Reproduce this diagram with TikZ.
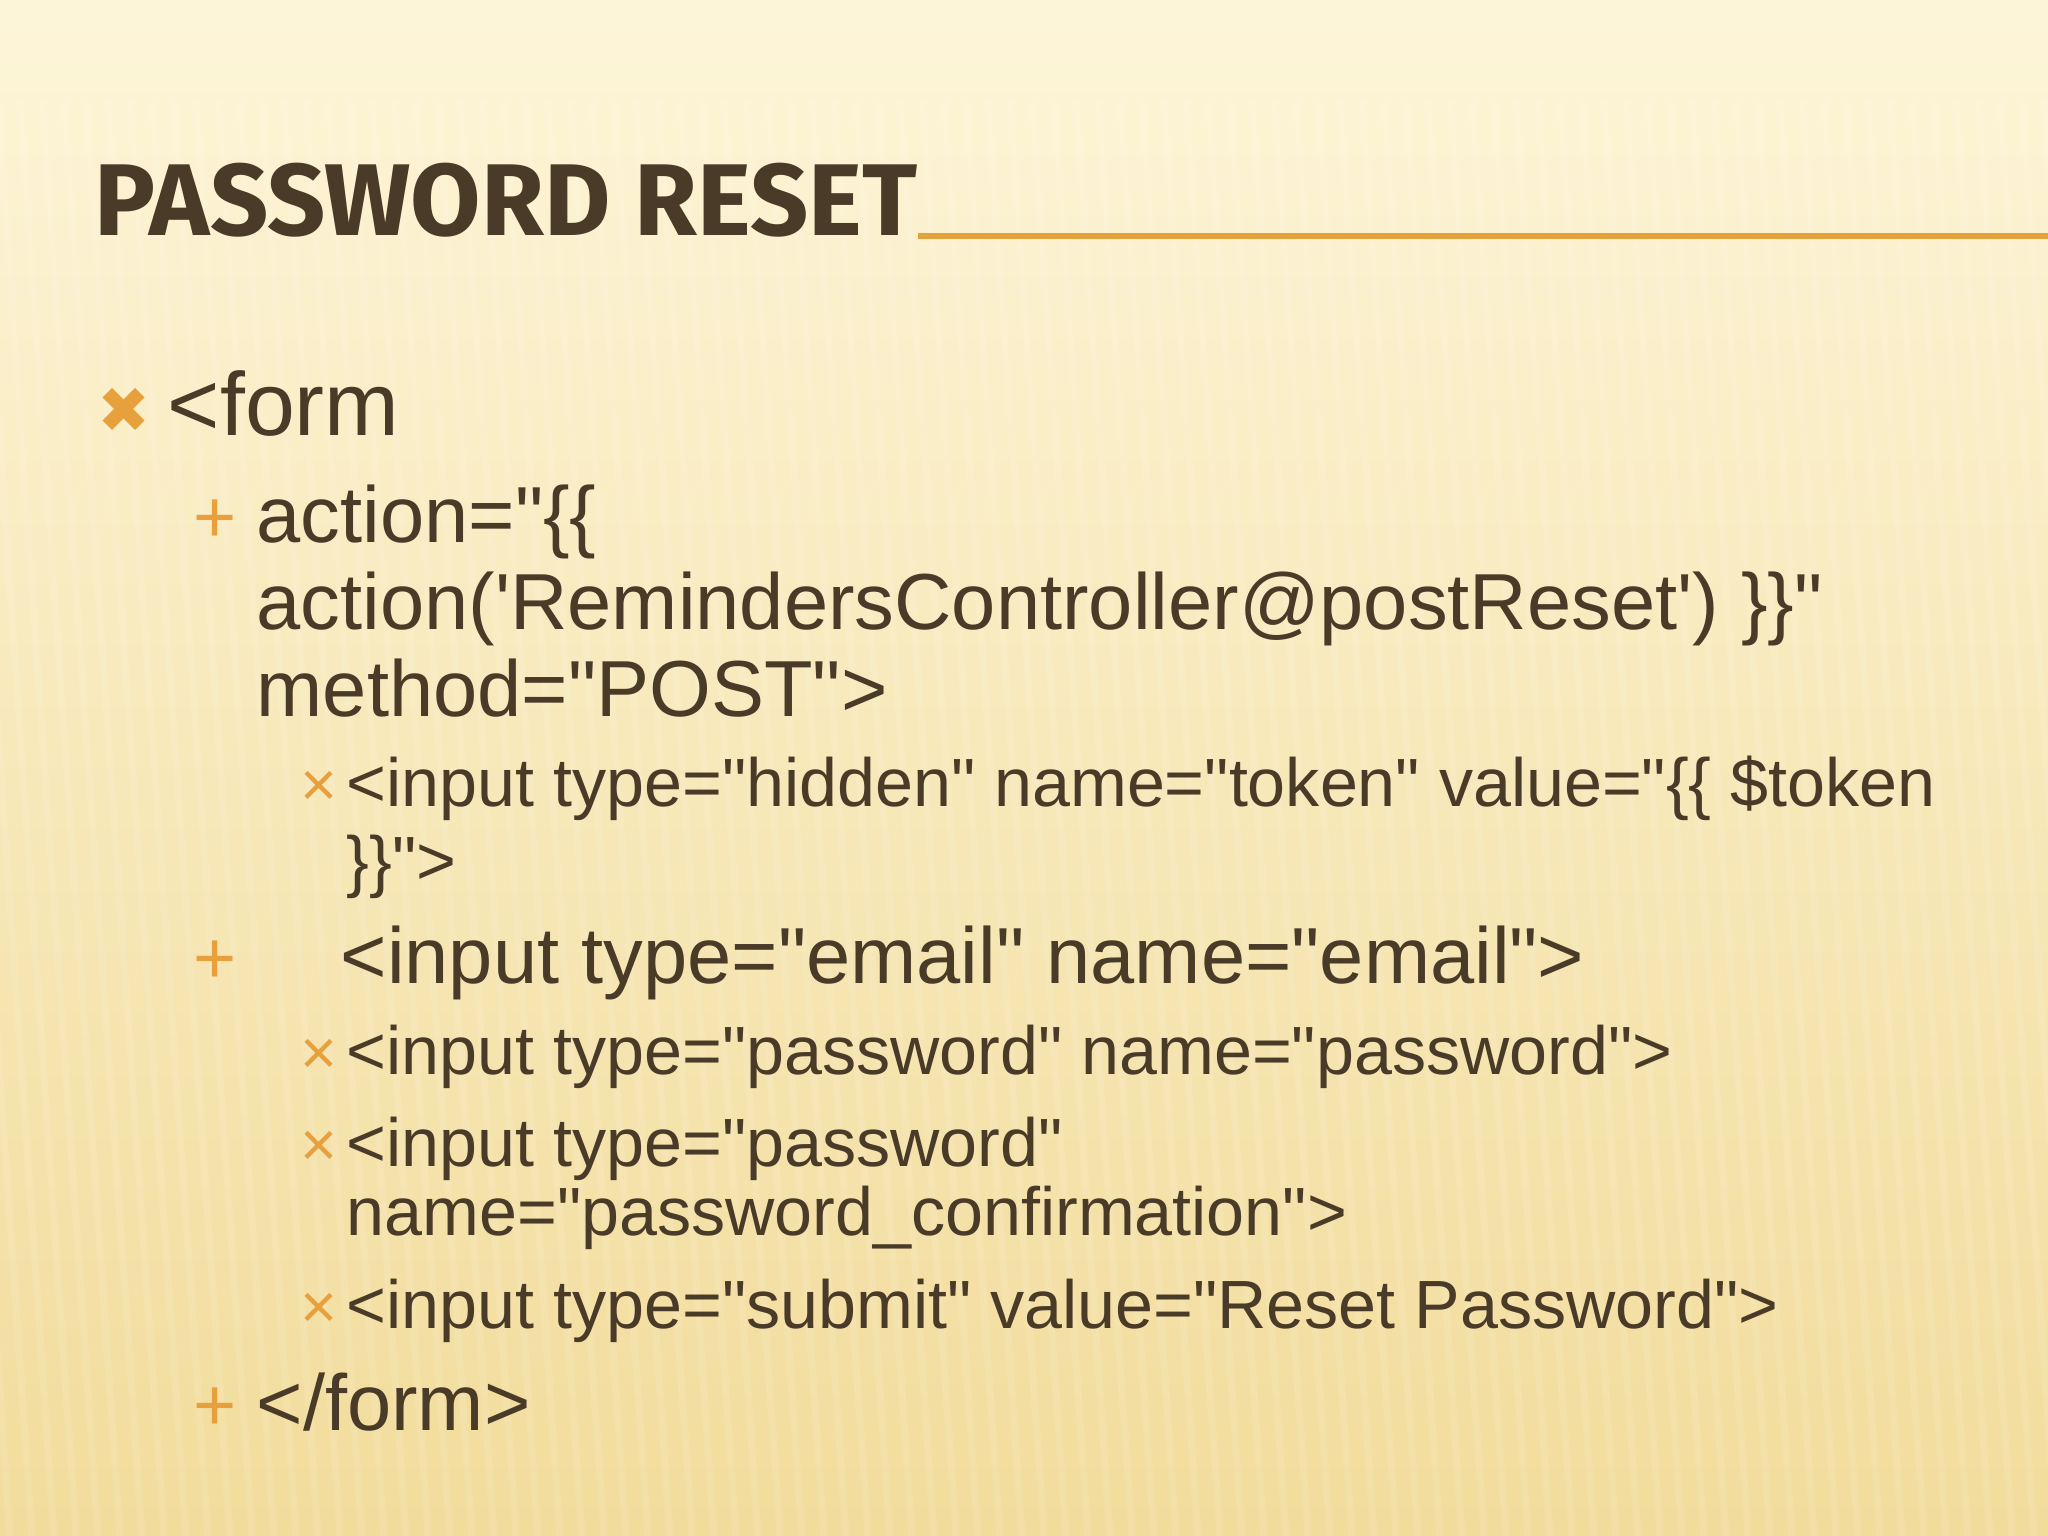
\documentclass[tikz,border=0pt]{standalone}
\usepackage{fontspec}
\setmainfont{Liberation Sans}[Ligatures=TeXOff]
\newfontfamily\titlefont{Fira Sans}
\newfontfamily\symfont{DejaVu Sans}
\definecolor{txt}{HTML}{4A3A28}
\definecolor{bul}{HTML}{E8A03C}
\definecolor{bgtop}{HTML}{FDF5D8}
\definecolor{bgbot}{HTML}{F2DC9C}
\definecolor{rule}{HTML}{E3A23A}
\tikzset{
 t/.style={anchor=base west,inner sep=0pt,text=txt},
 la/.style={t,font=\fontsize{25.5}{30}\selectfont},
 lb/.style={t,font=\fontsize{22.6}{27}\selectfont},
 lc/.style={t,font=\fontsize{19.4}{23}\selectfont},
 bb/.style={anchor=base west,inner sep=0pt,text=bul},
}
\begin{document}
\begin{tikzpicture}[x=0.01cm,y=-0.01cm]
\useasboundingbox (0,0) rectangle (2048,1536);
\shade[top color=bgtop,bottom color=bgbot] (0,0) rectangle (2048,1536);
\fill[bgtop,opacity=0.6] (0,0) rectangle (2048,80);
\foreach \i in {0,...,120}{\draw[white,opacity=0.10,line width=2pt] (\i*22-200,100) -- (\i*22-100,1536);}
\node[t,font=\titlefont\bfseries\fontsize{29}{33}\selectfont] (title) at (94,235) {PASSWORD RESET};
\coordinate (re) at (2048,236);
\draw[rule,line width=1.5pt] (title.base east) ++(0,1) -- (re);
\node[bb,font=\symfont\fontsize{18}{20}\selectfont] (b1) at (97,432) {✖};
\node[la] (l1) at (167,435) {<form};
\node[bb,font=\fontsize{21}{24}\selectfont] (b2) at (193,542) {+};
\node[lb] (l2a) at (256,542) {action="\{\{};
\node[lb] (l2b) at (256,629) {action('RemindersController@postReset') \}\}"};
\node[lb] (l2c) at (256,716) {method="POST">};
\node[bb,font=\fontsize{18}{20}\selectfont] (b3) at (300,806) {×};
\node[lc] (l3a) at (346,806) {<input type="hidden" name="token" value="\{\{ \$token};
\node[lc] (l3b) at (346,884) {\}\}">};
\node[bb,font=\fontsize{21}{24}\selectfont] (b4) at (193,983) {+};
\node[lb] (l4) at (340,983) {<input type="email" name="email">};
\node[bb,font=\fontsize{18}{20}\selectfont] (b5) at (300,1074) {×};
\node[lc] (l5) at (346,1074) {<input type="password" name="password">};
\node[bb,font=\fontsize{18}{20}\selectfont] (b6) at (300,1166) {×};
\node[lc] (l6a) at (346,1166) {<input type="password"};
\node[lc] (l6b) at (346,1235) {name="password\_confirmation">};
\node[bb,font=\fontsize{18}{20}\selectfont] (b7) at (300,1328) {×};
\node[lc] (l7) at (346,1328) {<input type="submit" value="Reset Password">};
\node[bb,font=\fontsize{21}{24}\selectfont] (b8) at (193,1430) {+};
\node[lb] (l8) at (256,1430) {</form>};
\end{tikzpicture}
\end{document}
